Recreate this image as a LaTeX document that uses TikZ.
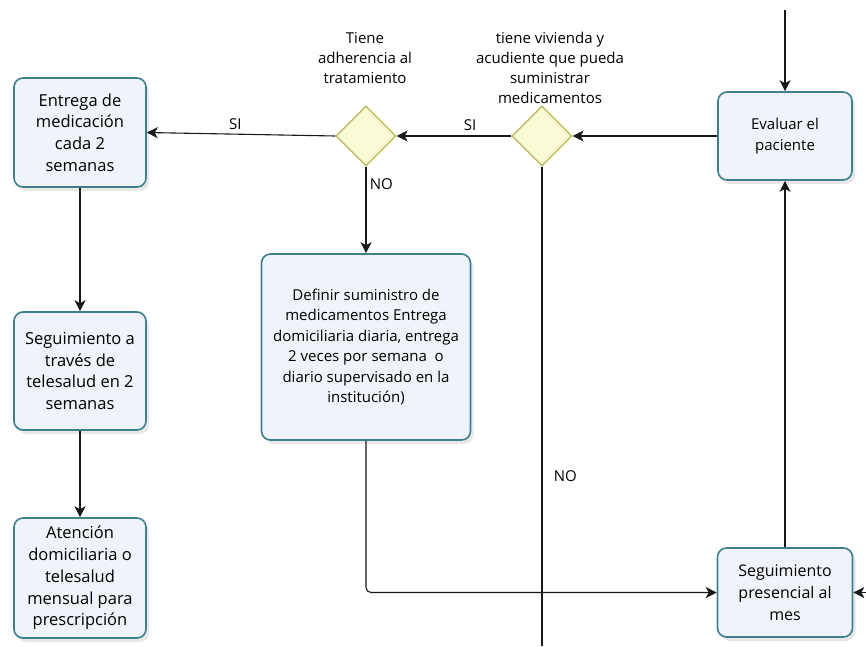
\documentclass[tikz,border=0pt]{standalone}
\usepackage{fontspec}
\setmainfont{Open Sans}
\usetikzlibrary{arrows.meta}
\usetikzlibrary{positioning}
\usetikzlibrary{shapes.geometric}
\usetikzlibrary{shadows}

\definecolor{boxline}{HTML}{3E7F8E}
\definecolor{boxfill}{HTML}{EEF4FA}
\definecolor{dialine}{HTML}{B8B650}
\definecolor{diafill}{HTML}{FAFAD4}

\begin{document}
\begin{tikzpicture}[x=1pt,y=-1pt,
  task/.style={draw=boxline,line width=1.6pt,rounded corners=9pt,fill=boxfill,
    drop shadow={opacity=0.18,shadow xshift=3pt,shadow yshift=-4pt},
    align=center,font=\fontsize{16.5}{21.7}\selectfont,inner sep=0pt},
  decision/.style={diamond,draw=dialine,line width=1.3pt,fill=diafill,
    minimum width=60pt,minimum height=60pt,inner sep=0pt},
  lbl/.style={align=center,font=\fontsize{15}{20}\selectfont},
  flow/.style={draw=black!90,line width=1.1pt,-{Stealth[length=11pt,width=11pt,inset=3pt]}}]
  \useasboundingbox (0,0) rectangle (866,646);
  % the vertices
  \node[task,minimum width=132pt,minimum height=109pt] (entrega) at (80,132.5) {Entrega de\\medicación\\cada 2\\semanas};
  \node[task,minimum width=132pt,minimum height=118pt] (telesalud) at (80,371) {Seguimiento a\\través de\\telesalud en 2\\semanas};
  \node[task,minimum width=132pt,minimum height=120pt] (atencion) at (80,578) {Atención\\domiciliaria o\\telesalud\\mensual para\\prescripción};
  \node[task,minimum width=134pt,minimum height=88pt,font=\fontsize{15}{21.7}\selectfont] (evaluar) at (785,136) {Evaluar el\\paciente};
  \node[task,minimum width=209pt,minimum height=186pt,font=\fontsize{15}{20.4}\selectfont] (definir) at (366,347) {Definir suministro de\\medicamentos Entrega\\domiciliaria diaria, entrega\\2 veces por semana ~o\\diario supervisado en la\\institución)};
  \node[task,minimum width=135pt,minimum height=89pt,font=\fontsize{16}{21.7}\selectfont] (presencial) at (785,592.5) {Seguimiento\\presencial al\\mes};
  \node[decision] (adherencia) at (366,136) {};
  \node[decision] (vivienda) at (542,136) {};
  \node[lbl] (adhtext) at (365,58) {Tiene\\adherencia al\\tratamiento};
  \node[lbl] (vivtext) at (550,68) {tiene vivienda y\\acudiente que pueda\\suministrar\\medicamentos};
  \coordinate (arriba) at (785,10);
  \coordinate (abajo) at (542,646);
  \coordinate (derecha) at (866,592.5);
  % the edges
  \draw[flow] (arriba) -- (evaluar.north);
  \draw[flow] (evaluar.west) -- (vivienda.east);
  \draw[flow] (vivienda.west) -- (adherencia.east) node[lbl,pos=0.36,above=1pt] {SI};
  \draw[flow] (adherencia.west) -- (entrega.east) node[lbl,pos=0.53,above=1pt] {SI};
  \draw[flow] (adherencia.south) -- (definir.north) node[lbl,pos=0.2,right=0pt] {NO};
  \draw[draw=black!90,line width=1.1pt] (vivienda.south) -- (abajo) node[lbl,pos=0.646,right=8pt] {NO};
  \draw[flow,rounded corners=5pt] (definir.south) |- (presencial.west);
  \draw[flow] (presencial.north) -- (evaluar.south);
  \draw[flow] (derecha) -- (presencial.east);
  \draw[flow] (entrega.south) -- (telesalud.north);
  \draw[flow] (telesalud.south) -- (atencion.north);
\end{tikzpicture}
\end{document}
